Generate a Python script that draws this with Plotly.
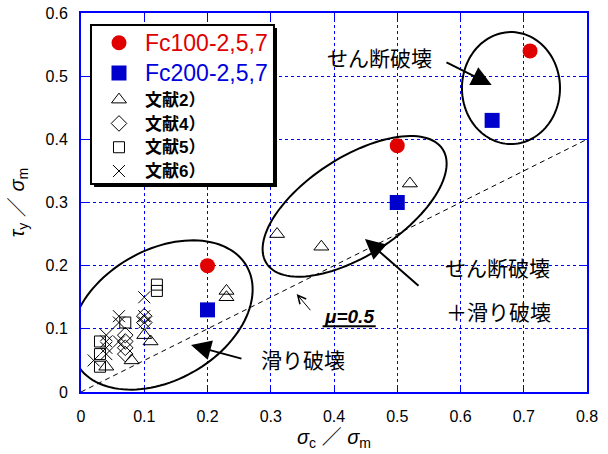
import numpy as np
import plotly.graph_objects as go

# ---------------- data ----------------
fc100_x = [0.2, 0.5, 0.71]
fc100_y = [0.2, 0.39, 0.54]
fc200_x = [0.2, 0.5, 0.65]
fc200_y = [0.13, 0.3, 0.43]
ref2_x = [0.04, 0.08, 0.1, 0.11, 0.23, 0.23, 0.31, 0.38, 0.52]
ref2_y = [0.04, 0.05, 0.09, 0.08, 0.15, 0.16, 0.25, 0.23, 0.33]
ref4_x = [0.07, 0.07, 0.07, 0.07, 0.1, 0.1]
ref4_y = [0.06, 0.07, 0.08, 0.09, 0.11, 0.12]
ref5_x = [0.03, 0.03, 0.03, 0.07, 0.12, 0.12]
ref5_y = [0.04, 0.06, 0.08, 0.11, 0.16, 0.17]
ref6_x = [0.02, 0.04, 0.04, 0.04, 0.04, 0.06, 0.06, 0.06, 0.1, 0.1, 0.1]
ref6_y = [0.05, 0.06, 0.07, 0.08, 0.09, 0.08, 0.11, 0.12, 0.11, 0.12, 0.15]
mu_x = [0.0, 0.8]
mu_y = [0.0, 0.4]
x_ticks = [0, 0.1, 0.2, 0.3, 0.4, 0.5, 0.6, 0.7, 0.8]
x_tick_labels = ["0", "0.1", "0.2", "0.3", "0.4", "0.5", "0.6", "0.7", "0.8"]
y_ticks = [0, 0.1, 0.2, 0.3, 0.4, 0.5, 0.6]
y_tick_labels = ["0", "0.1", "0.2", "0.3", "0.4", "0.5", "0.6"]

LAT = "Liberation Sans, Arial, Noto Sans CJK JP"
JP = "Noto Sans CJK JP"
BLUE = "#0000ff"

fig = go.Figure()

fig.add_trace(go.Scatter(x=mu_x, y=mu_y, mode="lines", showlegend=False,
                         line=dict(color="black", width=1, dash="5px,4px"), hoverinfo="skip"))

fig.add_trace(go.Scatter(x=fc100_x, y=fc100_y, mode="markers", legend="legend",
                         name="<span style='color:#e00000;font-size:23px'>Fc100-2,5,7</span>",
                         marker=dict(symbol="circle", size=15, color="#e00000")))
fig.add_trace(go.Scatter(x=fc200_x, y=fc200_y, mode="markers", legend="legend",
                         name="<span style='color:#0000dd;font-size:23px'>Fc200-2,5,7</span>",
                         marker=dict(symbol="square", size=15, color="#0000cc")))
open_line = dict(color="black", width=1)
fig.add_trace(go.Scatter(x=ref2_x, y=ref2_y, mode="markers", legend="legend2",
                         name="<span style='font-size:17px'><b>文献2）</b></span>",
                         marker=dict(symbol="triangle-up-open", size=13, color="black", line=open_line)))
fig.add_trace(go.Scatter(x=ref4_x, y=ref4_y, mode="markers", legend="legend2",
                         name="<span style='font-size:17px'><b>文献4）</b></span>",
                         marker=dict(symbol="diamond-open", size=12, color="black", line=open_line)))
fig.add_trace(go.Scatter(x=ref5_x, y=ref5_y, mode="markers", legend="legend2",
                         name="<span style='font-size:17px'><b>文献5）</b></span>",
                         marker=dict(symbol="square-open", size=11, color="black", line=open_line)))
fig.add_trace(go.Scatter(x=ref6_x, y=ref6_y, mode="markers", legend="legend2",
                         name="<span style='font-size:17px'><b>文献6）</b></span>",
                         marker=dict(symbol="x-thin-open", size=12, color="black", line=open_line)))


def ellipse_path(cx, cy, a, b, theta_deg, n=120):
    t = np.linspace(0, 2 * np.pi, n)
    th = np.deg2rad(theta_deg)
    xs = cx + a * np.cos(t) * np.cos(th) - b * np.sin(t) * np.sin(th)
    ys = cy + a * np.cos(t) * np.sin(th) + b * np.sin(t) * np.cos(th)
    return "M " + " L ".join(f"{x:.5f},{y:.5f}" for x, y in zip(xs, ys)) + " Z"


shapes = []
for (cx, cy, a, b, th) in [(0.1276, 0.1219, 0.155, 0.103, 30),
                           (0.4326, 0.2939, 0.166, 0.0775, 33),
                           (0.6798, 0.4812, 0.0775, 0.0886, 0)]:
    shapes.append(dict(type="path", path=ellipse_path(cx, cy, a, b, th), xref="x", yref="y",
                       line=dict(color="black", width=2)))

# legend box with shadow
shapes.append(dict(type="rect", xref="x", yref="y", x0=0.0206, x1=0.3099, y0=0.3245, y1=0.5763,
                   fillcolor="black", line=dict(width=0), layer="above"))
shapes.append(dict(type="rect", xref="x", yref="y", x0=0.0158, x1=0.3051, y0=0.3293, y1=0.581,
                   fillcolor="white", line=dict(color="black", width=2), layer="above"))
# underline of mu label
shapes.append(dict(type="line", xref="x", yref="y", x0=0.382, x1=0.466, y0=0.104, y1=0.104,
                   line=dict(color="black", width=2)))

annotations = []
txt_font = dict(family=JP, size=21, color="black")
for (tx, ty, s) in [(0.4727, 0.5303, "せん断破壊"), (0.6585, 0.1984, "せん断破壊"),
                    (0.6593, 0.1282, "＋滑り破壊"), (0.3502, 0.0522, "滑り破壊")]:
    annotations.append(dict(x=tx, y=ty, xref="x", yref="y", text=s, showarrow=False, font=txt_font))
annotations.append(dict(x=0.423, y=0.12, xref="x", yref="y", text="<b><i>μ=0.5</i></b>",
                        showarrow=False, font=dict(family=LAT, size=19, color="black")))
for (x0, y0, x1, y1) in [(0.5755, 0.5229, 0.6493, 0.486),
                         (0.536, 0.1662, 0.449, 0.2422),
                         (0.2561, 0.0522, 0.1739, 0.0744)]:
    annotations.append(dict(x=x1, y=y1, ax=x0, ay=y0, xref="x", yref="y", axref="x", ayref="y",
                            text="", showarrow=True, arrowhead=2, arrowsize=2.0, arrowwidth=2,
                            arrowcolor="black"))
annotations.append(dict(x=0.341, y=0.1551, ax=0.3647, ay=0.1271, xref="x", yref="y", axref="x",
                        ayref="y", text="", showarrow=True, arrowhead=5, arrowsize=1.6,
                        arrowwidth=1, arrowcolor="black"))

axis_common = dict(showline=True, linecolor=BLUE, linewidth=2, mirror="allticks",
                   ticks="inside", ticklen=6, tickcolor=BLUE, tickwidth=1,
                   showgrid=True, gridcolor=BLUE, gridwidth=1, griddash="dot",
                   zeroline=False, automargin=False,
                   tickfont=dict(family=LAT, size=16, color="black"))

legend_common = dict(xanchor="left", yanchor="top", bgcolor="rgba(0,0,0,0)", borderwidth=0,
                     tracegroupgap=0, itemsizing="trace", itemwidth=42)

fig.update_layout(
    width=608, height=454,
    margin=dict(l=81, r=21, t=13, b=62),
    paper_bgcolor="white", plot_bgcolor="white",
    xaxis=dict(range=[0, 0.8], tickvals=x_ticks, ticktext=x_tick_labels,
               title=dict(text="<i>σ</i><sub>c</sub> ／ <i>σ</i><sub>m</sub>", standoff=6,
                          font=dict(family=LAT, size=20, color="black")),
               ticklabelstandoff=9, **axis_common),
    yaxis=dict(range=[0, 0.6], tickvals=y_ticks, ticktext=y_tick_labels,
               title=dict(text="<i>τ</i><sub>y</sub> ／ <i>σ</i><sub>m</sub>", standoff=16,
                          font=dict(family=LAT, size=20, color="black")),
               ticklabelstandoff=8, **axis_common),
    showlegend=True,
    legend=dict(x=0.0237, y=0.9745, font=dict(family=LAT, size=21, color="black"), **legend_common),
    legend2=dict(x=0.0237, y=0.816, font=dict(family=LAT, size=16, color="black"), **legend_common),
    shapes=shapes, annotations=annotations,
)

fig.write_html("out.html",
               config={"displayModeBar": False},
               post_script="document.body.style.margin='0';"
                           "document.documentElement.style.overflow='hidden';")
